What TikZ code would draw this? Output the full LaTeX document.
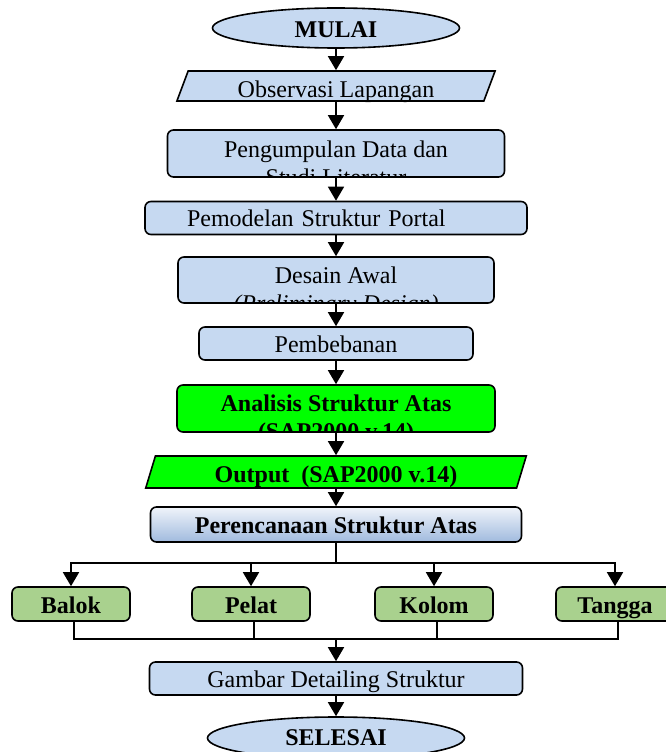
\documentclass[tikz,border=0pt]{standalone}
\usepackage{fontspec}
\setmainfont{Liberation Serif}
\usetikzlibrary{shapes.geometric,arrows.meta}

\definecolor{kotakbiru}{RGB}{198,217,241}
\definecolor{hijauterang}{RGB}{0,255,0}
\definecolor{hijaudaun}{RGB}{169,209,142}
\definecolor{biruatas}{RGB}{240,244,250}
\definecolor{birubawah}{RGB}{160,186,222}

\tikzset{
  teks/.style={font=\fontsize{24}{27.6}\selectfont},
  turun/.style={text height=#1, text depth=0pt},
  kotak/.style={teks, draw=black, line width=1.6pt, rounded corners=6pt,
    fill=kotakbiru, inner sep=0pt, align=center, turun=17pt},
  ujung/.style={ellipse, draw, line width=1.6pt, fill=kotakbiru, inner sep=0pt,
    font=\fontsize{24}{27.6}\selectfont\bfseries},
  jajar/.style={teks, trapezium, trapezium left angle=72, trapezium right angle=108,
    trapezium stretches, draw, line width=1.6pt, inner sep=0pt},
  cabang/.style={kotak, fill=hijaudaun, minimum width=118pt, minimum height=34pt,
    font=\fontsize{24}{27.6}\selectfont\bfseries, turun=18pt},
  panah/.style={line width=1.6pt, -{Triangle[width=16pt,length=14pt]}},
  garis/.style={line width=1.6pt},
  % 二行目が枠で切れる文字
  potong/.style 2 args={path picture={
    \node[teks, align=center, inner sep=0pt, anchor=north, text height={}, text depth={}]
      at ([yshift=-9pt]path picture bounding box.north) {#1\\#2};}},
}

\begin{document}
\begin{tikzpicture}[x=1pt, y=-1pt]
    % 画像の枠
    \useasboundingbox (0,0) rectangle (666,752);
    \clip (0,0) rectangle (666,752);

    % 上から順に並ぶ箱
    \node[ujung, minimum width=247pt, minimum height=40pt, turun=20pt] (mulai) at (336,28) {MULAI};
    \node[jajar, fill=kotakbiru, minimum width=319pt, minimum height=30pt, turun=23pt] (obs) at (336,86) {Observasi Lapangan};
    \node[kotak, minimum width=337pt, minimum height=47pt,
      potong={Pengumpulan Data dan}{Studi Literatur}] (kumpul) at (336,153.5) {};
    \node[kotak, minimum width=382pt, minimum height=33pt, text width=298pt,
      align=left, inner xsep=42pt] (model) at (336,218) {Pemodelan Struktur Portal};
    \node[kotak, minimum width=316pt, minimum height=46pt,
      potong={Desain Awal}{\textit{(Preliminary Design)}}] (desain) at (336,280) {};
    \node[kotak, minimum width=274pt, minimum height=33pt] (beban) at (336,343.5) {Pembebanan};
    \node[kotak, fill=hijauterang, minimum width=318pt, minimum height=47pt,
      potong={\textbf{Analisis Struktur Atas}}{\textbf{(SAP2000 v.14)}}] (analisis) at (336,408.5) {};
    \node[jajar, fill=hijauterang, minimum width=381pt, minimum height=32pt, turun=20pt,
      font=\fontsize{24}{27.6}\selectfont\bfseries] (output) at (336,472) {Output\ \ (SAP2000 v.14)};
    \node[kotak, top color=biruatas, bottom color=birubawah, minimum width=371pt,
      minimum height=35pt, font=\fontsize{24}{27.6}\selectfont\bfseries] (rencana) at (336,524.5) {Perencanaan Struktur Atas};

    % 四つの部材
    \foreach \n/\x/\t in {balok/71/Balok, pelat/251/Pelat, kolom/434/Kolom, tangga/615/Tangga}
        \node[cabang] (\n) at (\x,604) {\t};

    \node[kotak, minimum width=373pt, minimum height=33pt] (gambar) at (336,678.5) {Gambar Detailing Struktur};
    \node[ujung, minimum width=257pt, minimum height=42pt, turun=14pt] (selesai) at (336,738) {SELESAI};

    \coordinate (bagi) at (336,563);
    \coordinate (gabung) at (336,639);

    % 縦の矢印
    \foreach \a/\b in {mulai/obs, obs/kumpul, kumpul/model, model/desain, desain/beban,
                       beban/analisis, analisis/output, output/rencana, gambar/selesai}
        \draw[panah] (\a) -- (\b);

    % 分岐と合流
    \draw[garis] (rencana) -- (bagi);
    \foreach \n in {balok, pelat, kolom, tangga} {
        \draw[panah] (bagi) -| (\n);
        \draw[garis] ([xshift=3pt]\n.south) |- (gabung);
    }
    \draw[panah] (gabung) -- (gambar);

\end{tikzpicture}
\end{document}
